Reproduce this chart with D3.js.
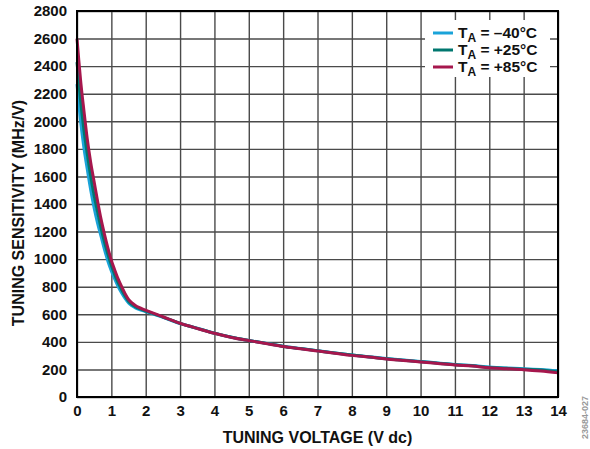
<!DOCTYPE html>
<html><head><meta charset="utf-8">
<script src="https://cdn.jsdelivr.net/npm/d3@7"></script>
<style>body{margin:0;background:#fff}svg{display:block}text{font-family:"Liberation Sans",Arial,sans-serif;font-weight:bold}</style>
</head><body><svg id="c" width="590" height="449"></svg>
<script>
const voltage = [0,0.05,0.1,0.2,0.3,0.4,0.5,0.6,0.7,0.8,0.9,1.0,1.1,1.2,1.3,1.4,1.5,1.6,1.7,1.8,2.0,2.2,2.5,3,3.5,4,4.5,5,5.5,6,6.5,7,7.5,8,8.5,9,9.5,10,10.5,11,11.5,12,12.5,13,13.5,14];
const sensM40 = [2270,2130,2010,1810,1650,1500,1370,1260,1165,1070,985,915,855,800,755,715,682,662,647,636,620,604,578,533,499,463,434,410,390,368,352,336,320,305,292,279,268,258,247,236,228,217,210,205,200,190];
const sensP25 = [2430,2290,2160,1940,1760,1600,1460,1340,1225,1125,1035,955,885,828,778,733,695,672,655,642,624,607,580,534,498,462,433,410,389,367,351,335,319,304,291,277,266,256,245,234,226,214,208,201,196,182];
const sensP85 = [2600,2450,2310,2080,1870,1700,1560,1420,1290,1180,1080,990,920,855,800,750,708,682,664,650,630,610,582,535,497,462,432,409,388,366,350,334,318,302,290,276,265,254,243,232,224,212,205,198,188,175];
const xTicks = d3.range(0,15,1);
const yTicks = d3.range(0,2801,200);
const seriesNames = ["–40°C","+25°C","+85°C"];
const seriesColors = ["#1aa3d9","#00776f","#a6174d"];
const seriesData = [sensM40, sensP25, sensP85];

const svg = d3.select("#c");
const L=77,R=558,T=11,B=397;
const x = d3.scaleLinear().domain([0,14]).range([L,R]);
const y = d3.scaleLinear().domain([0,2800]).range([B,T]);

const gx = svg.append("g").attr("transform",`translate(0,${B})`)
  .call(d3.axisBottom(x).tickValues(xTicks).tickSize(-(B-T)).tickPadding(8).tickFormat(d3.format("d")));
const gy = svg.append("g").attr("transform",`translate(${L},0)`)
  .call(d3.axisLeft(y).tickValues(yTicks).tickSize(-(R-L)).tickPadding(10).tickFormat(d3.format("d")));
[gx,gy].forEach(g=>{
  g.select(".domain").remove();
  g.selectAll("line").attr("stroke","#4a4a4a").attr("stroke-width",1.4);
  g.selectAll("text").attr("font-size",15).attr("fill","#111").attr("font-family","Liberation Sans, Arial, sans-serif").attr("font-weight","bold");
});

svg.append("rect").attr("x",425).attr("y",20).attr("width",125).attr("height",57).attr("fill","#fff");

const line = d3.line().x((d,i)=>x(voltage[i])).y(d=>y(d)).curve(d3.curveMonotoneX);
seriesData.forEach((s,i)=>{
  svg.append("path").datum(s).attr("d",line).attr("fill","none")
    .attr("stroke",seriesColors[i]).attr("stroke-width",3).attr("stroke-linejoin","round");
});

svg.append("rect").attr("x",L).attr("y",T).attr("width",R-L).attr("height",B-T)
  .attr("fill","none").attr("stroke","#000").attr("stroke-width",2);

seriesNames.forEach((n,i)=>{
  const yy = 33 + i*17;
  svg.append("line").attr("x1",433).attr("x2",453).attr("y1",yy).attr("y2",yy)
    .attr("stroke",seriesColors[i]).attr("stroke-width",3);
  const t = svg.append("text").attr("x",458).attr("y",yy+5).attr("font-size",15.5).attr("fill","#111");
  t.append("tspan").text("T");
  t.append("tspan").attr("dy",4).attr("font-size",12).text("A");
  t.append("tspan").attr("dy",-4).text(" = " + n);
});

svg.append("text").attr("x",(L+R)/2).attr("y",443).attr("text-anchor","middle")
  .attr("font-size",16).attr("fill","#111").text("TUNING VOLTAGE (V dc)");
svg.append("text").attr("transform","translate(24,213) rotate(-90)").attr("text-anchor","middle")
  .attr("font-size",16).attr("fill","#111").text("TUNING SENSITIVITY (MHz/V)");
svg.append("text").attr("transform","translate(588,396) rotate(-90)").attr("text-anchor","end")
  .attr("font-size",9).attr("font-weight","normal").attr("fill","#999").text("23684-027");
</script></body></html>
